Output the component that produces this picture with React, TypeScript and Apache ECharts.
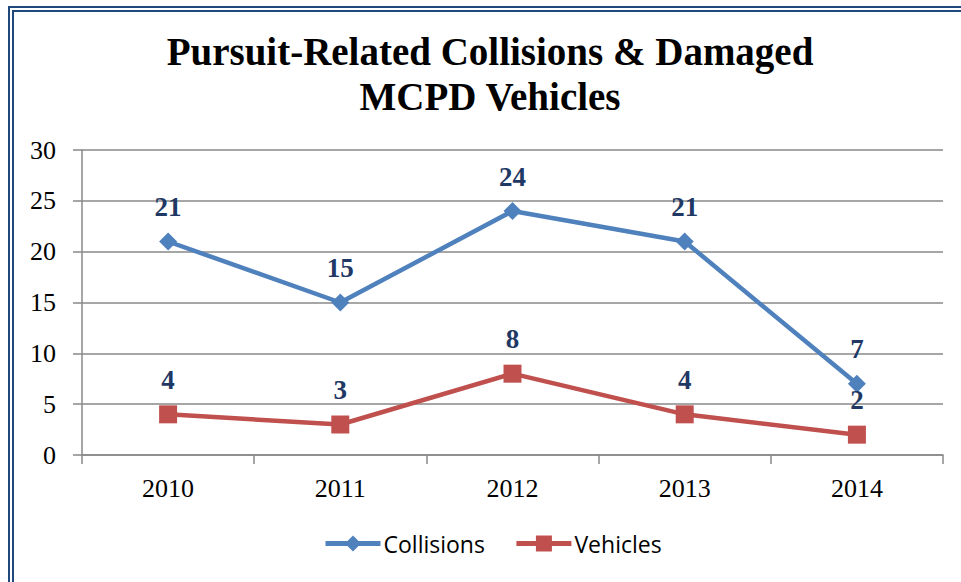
import React, { useEffect, useRef } from "react";
import * as echarts from "echarts";

const years = ["2010", "2011", "2012", "2013", "2014"];
const collisions = [21, 15, 24, 21, 7];
const vehicles = [4, 3, 8, 4, 2];
const yTicks = [0, 5, 10, 15, 20, 25, 30];

export default function App() {
  const ref = useRef<HTMLDivElement>(null);
  useEffect(() => {
    const chart = echarts.init(ref.current!, null, { renderer: "svg" });
    const serif = "Liberation Serif";
    const labelStyle = {
      show: true,
      position: "top" as const,
      distance: 12,
      fontFamily: serif,
      fontWeight: "bold" as const,
      fontSize: 27,
      color: "#1F3864",
    };
    chart.setOption({
      animation: false,
      backgroundColor: "#fff",
      title: {
        text: "Pursuit-Related Collisions & Damaged\nMCPD Vehicles",
        left: 485,
        top: 24,
        textAlign: "center",
        textStyle: {
          fontFamily: serif,
          fontWeight: "bold",
          fontSize: 39,
          lineHeight: 45,
          color: "#000",
        },
      },
      graphic: [
        {
          type: "rect",
          shape: { x: 9, y: 7, width: 980, height: 600 },
          style: { fill: "none", stroke: "#1F497D", lineWidth: 2 },
          silent: true,
        },
        {
          type: "rect",
          shape: { x: 13, y: 11, width: 980, height: 600 },
          style: { fill: "none", stroke: "#1F497D", lineWidth: 2 },
          silent: true,
        },
      ],
      grid: { left: 82, right: 18, top: 150, bottom: 127 },
      legend: {
        bottom: 22,
        left: 318,
        itemWidth: 55,
        itemHeight: 20,
        itemGap: 29,
        lineStyle: { width: 5 },
        textStyle: { fontFamily: "Open Sans", fontSize: 23, color: "#000", padding: [0, 0, 0, -2] },
        data: ["Collisions", "Vehicles"],
      },
      xAxis: {
        type: "category",
        data: years,
        boundaryGap: true,
        axisLine: { lineStyle: { color: "#888", width: 1.5 } },
        axisTick: { show: true, length: 9, lineStyle: { color: "#888", width: 1.5 } },
        axisLabel: { fontFamily: serif, fontSize: 26, color: "#000", margin: 20 },
      },
      yAxis: {
        type: "value",
        min: yTicks[0],
        max: yTicks[yTicks.length - 1],
        interval: 5,
        axisLine: { show: true, lineStyle: { color: "#888", width: 1.5 } },
        axisTick: { show: true, length: 9, lineStyle: { color: "#888", width: 1.5 } },
        splitLine: { lineStyle: { color: "#888", width: 1.5 } },
        axisLabel: { fontFamily: serif, fontSize: 26, color: "#000", margin: 26 },
      },
      series: [
        {
          name: "Collisions",
          type: "line",
          data: collisions,
          symbol: "diamond",
          symbolSize: 18,
          lineStyle: { color: "#4F81BD", width: 4.5 },
          itemStyle: { color: "#4F81BD" },
          label: labelStyle,
        },
        {
          name: "Vehicles",
          type: "line",
          data: vehicles,
          symbol: "rect",
          symbolSize: 18,
          lineStyle: { color: "#C0504D", width: 4.5 },
          itemStyle: { color: "#C0504D" },
          label: labelStyle,
        },
      ],
    });
    return () => chart.dispose();
  }, []);
  return (
    <div
      ref={ref}
      style={{ position: "fixed", left: 0, top: 0, width: 961, height: 582 }}
    />
  );
}
